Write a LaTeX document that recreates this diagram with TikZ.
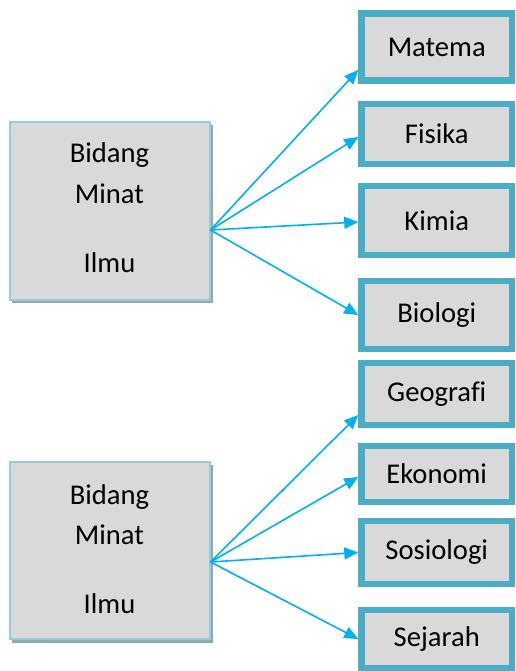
\documentclass[tikz,border=0pt]{standalone}
\usepackage{fontspec}
\setmainfont{Carlito}[Ligatures=NoCommon]
\usetikzlibrary{arrows.meta}
\definecolor{fillgray}{HTML}{D9D9D9}
\definecolor{leftborder}{HTML}{92CDDC}
\definecolor{shadowc}{HTML}{8FA9B6}
\definecolor{rightborder}{HTML}{4BACC6}
\definecolor{arrowc}{HTML}{00B0F0}
\tikzset{
  bigbox/.style={draw=leftborder, fill=fillgray, line width=2pt, rectangle, inner sep=0pt,
    minimum width=200pt, minimum height=177pt},
  shadowbox/.style={fill=shadowc, rectangle, inner sep=0pt, minimum width=201pt, minimum height=178pt},
  catbox/.style={draw=rightborder, fill=fillgray, line width=6.5pt, rectangle, inner sep=0pt,
    minimum width=150.5pt, font=\fontsize{28.6}{30}\selectfont},
  lbl/.style={anchor=base, inner sep=0pt, font=\fontsize{28.6}{30}\selectfont},
  link/.style={draw=arrowc, line width=1.6pt, -{Triangle[length=14pt,width=12pt]}}
}
\begin{document}
\begin{tikzpicture}[x=1pt,y=-1pt]
\useasboundingbox (0,0) rectangle (515,671);
% left boxes
\node[shadowbox] (S1) at (112.5,214) {};
\node[bigbox] (L1) at (109.5,211) {};
\node[lbl] (L1a) at (109.5,163) {Bidang};
\node[lbl] (L1b) at (109.5,203) {Minat};
\node[lbl] (L1c) at (109.5,272) {Ilmu};
\node[shadowbox] (S2) at (112.5,553.5) {};
\node[bigbox] (L2) at (109.5,550.5) {};
\node[lbl] (L2a) at (109.5,504) {Bidang};
\node[lbl] (L2b) at (109.5,544) {Minat};
\node[lbl] (L2c) at (109.5,613) {Ilmu};
% right boxes
\node[catbox, minimum height=67pt] (mat) at (436.75,47) {Matema};
\node[catbox, minimum height=60pt] (fis) at (436.75,134) {Fisika};
\node[catbox, minimum height=69pt] (kim) at (436.75,220.5) {Kimia};
\node[catbox, minimum height=68pt] (bio) at (436.75,315) {Biologi};
\node[catbox, minimum height=62pt] (geo) at (436.75,394) {Geografi};
\node[catbox, minimum height=56pt] (eko) at (436.75,474) {Ekonomi};
\node[catbox, minimum height=63pt] (sos) at (436.75,552.5) {Sosiologi};
\node[catbox, minimum height=58pt] (sej) at (436.75,639) {Sejarah};
% connectors
\coordinate (o1) at ([yshift=-19pt]L1.east);
\coordinate (o2) at ([yshift=-11.5pt]L2.east);
\draw[link] (o1) -- ([yshift=-23pt]mat.west);
\draw[link] (o1) -- ([yshift=-3pt]fis.west);
\draw[link] (o1) -- ([yshift=-1.5pt]kim.west);
\draw[link] (o1) -- (bio.west);
\draw[link] (o2) -- ([yshift=-21pt]geo.west);
\draw[link] (o2) -- ([yshift=-3pt]eko.west);
\draw[link] (o2) -- (sos.west);
\draw[link] (o2) -- (sej.west);
\end{tikzpicture}
\end{document}
